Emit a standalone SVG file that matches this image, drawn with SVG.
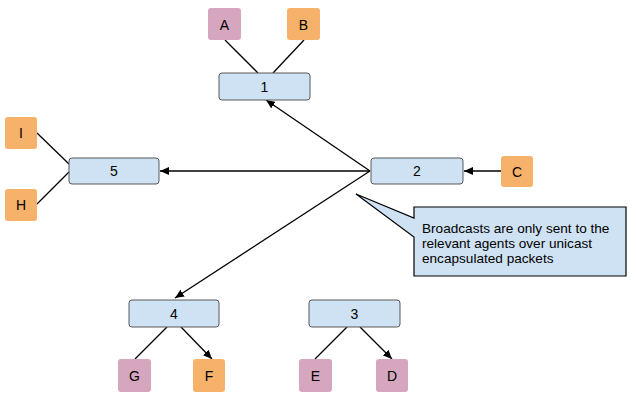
<svg xmlns="http://www.w3.org/2000/svg" width="636" height="403" viewBox="0 0 636 403">
<style>
.n rect{fill:#cfe2f3;stroke:#595959;stroke-width:1}
.p rect{fill:#d5a6bd}
.o rect{fill:#f6b26b}
text{font-family:"Liberation Sans",Arial,sans-serif;font-size:14px;fill:#000;text-anchor:middle}
.c line{stroke:#000;stroke-width:1.3}
.a{marker-end:url(#ah)}
.t{text-anchor:start;font-size:13.6px}
</style>
<defs>
<marker id="ah" markerUnits="userSpaceOnUse" markerWidth="10" markerHeight="8" refX="9" refY="4" orient="auto">
<path d="M0,0 L9,4 L0,8 z" fill="#000"/>
</marker>
</defs>
<g id="connectors" class="c">
<line x1="225" y1="40" x2="258" y2="73"/>
<line x1="304" y1="40" x2="273" y2="73"/>
<line x1="37" y1="133" x2="69" y2="164"/>
<line x1="37" y1="204" x2="69" y2="172"/>
<line x1="167" y1="327" x2="135" y2="359"/>
<line x1="347" y1="327" x2="315" y2="359"/>
<line class="a" x1="181" y1="327" x2="212" y2="359"/>
<line class="a" x1="360" y1="327" x2="392" y2="359"/>
<line class="a" x1="501" y1="171" x2="464" y2="171"/>
<line class="a" x1="370" y1="171" x2="160" y2="171"/>
<line class="a" x1="370" y1="171" x2="266" y2="100"/>
<line class="a" x1="370" y1="171" x2="175" y2="298"/>
</g>
<g id="node1" class="n"><rect x="219" y="73" width="91" height="27" rx="3"/><text x="264.5" y="91.5">1</text></g>
<g id="node2" class="n"><rect x="371" y="158" width="92" height="26" rx="3"/><text x="417" y="176">2</text></g>
<g id="node3" class="n"><rect x="309" y="300" width="91" height="27" rx="3"/><text x="354.5" y="318.5">3</text></g>
<g id="node4" class="n"><rect x="129" y="300" width="90" height="27" rx="3"/><text x="174" y="318.5">4</text></g>
<g id="node5" class="n"><rect x="69" y="158" width="90" height="26" rx="3"/><text x="114" y="176">5</text></g>
<g id="nodeA" class="p"><rect x="208" y="8" width="33" height="32" rx="3"/><text x="224.5" y="29.5">A</text></g>
<g id="nodeB" class="o"><rect x="287" y="8" width="33" height="32" rx="3"/><text x="303.5" y="29.5">B</text></g>
<g id="nodeC" class="o"><rect x="501" y="156" width="32" height="31" rx="3"/><text x="517" y="176.5">C</text></g>
<g id="nodeI" class="o"><rect x="5" y="117" width="32" height="32" rx="3"/><text x="21" y="138">I</text></g>
<g id="nodeH" class="o"><rect x="5" y="189" width="32" height="32" rx="3"/><text x="21" y="210">H</text></g>
<g id="nodeG" class="p"><rect x="118" y="359" width="33" height="33" rx="3"/><text x="134.5" y="380.5">G</text></g>
<g id="nodeF" class="o"><rect x="193" y="359" width="32" height="33" rx="3"/><text x="209" y="380.5">F</text></g>
<g id="nodeE" class="p"><rect x="299" y="359" width="33" height="33" rx="3"/><text x="315.5" y="380.5">E</text></g>
<g id="nodeD" class="p"><rect x="376" y="359" width="32" height="33" rx="3"/><text x="392" y="380.5">D</text></g>
<g id="callout">
<path d="M414,207 L626,207 L626,276 L414,276 L414,237 L356,194 L414,218 Z" fill="#cfe2f3" stroke="#000" stroke-width="1.2"/>
<text class="t" x="422" y="233">Broadcasts are only sent to the</text>
<text class="t" x="422" y="248">relevant agents over unicast</text>
<text class="t" x="422" y="263">encapsulated packets</text>
</g>
</svg>
